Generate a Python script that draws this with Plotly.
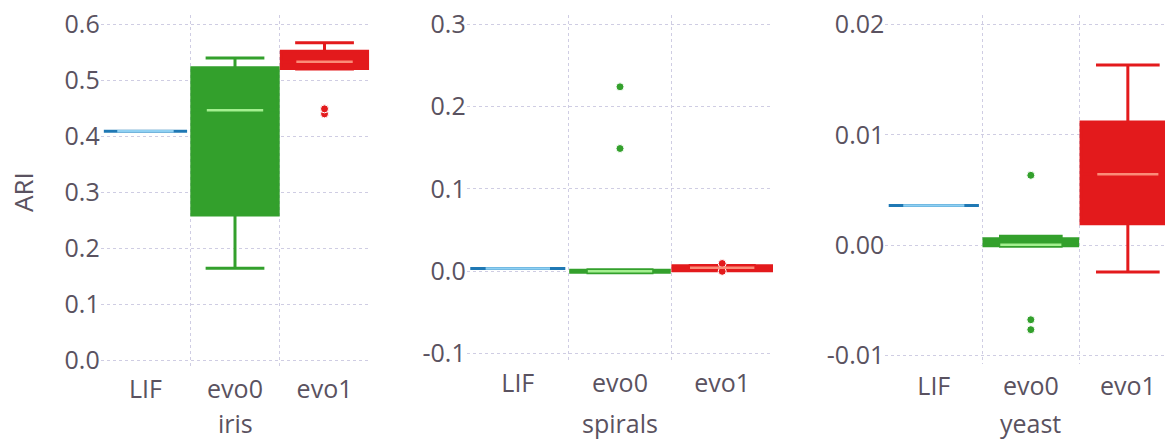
import plotly.graph_objects as go

# ---------------- data ----------------
categories = ["LIF", "evo0", "evo1"]
datasets = ["iris", "spirals", "yeast"]

# box statistics per dataset, ordered as categories
iris_q1 = [0.409, 0.2595, 0.521]
iris_median = [0.409, 0.4464, 0.533]
iris_q3 = [0.409, 0.5226, 0.552]
iris_lowerfence = [0.409, 0.1643, 0.520]
iris_upperfence = [0.409, 0.540, 0.567]
iris_outliers = [[], [], [0.440, 0.449]]

spirals_q1 = [0.0030, -0.0015, 0.0005]
spirals_median = [0.0030, -0.0003, 0.0040]
spirals_q3 = [0.0030, 0.0010, 0.0065]
spirals_lowerfence = [0.0030, -0.0020, 0.0004]
spirals_upperfence = [0.0030, 0.0015, 0.0068]
spirals_outliers = [[], [0.149, 0.224], [-0.0003, 0.0092]]

yeast_q1 = [0.0036, -0.00005, 0.00195]
yeast_median = [0.0036, 0.00003, 0.00642]
yeast_q3 = [0.0036, 0.00059, 0.01116]
yeast_lowerfence = [0.0036, -0.0001, -0.00243]
yeast_upperfence = [0.0036, 0.0008, 0.01632]
yeast_outliers = [[], [-0.00765, -0.00675, 0.00633], []]

# y-axis ticks
iris_tickvals = [0.0, 0.1, 0.2, 0.3, 0.4, 0.5, 0.6]
iris_ticktext = ["0.0", "0.1", "0.2", "0.3", "0.4", "0.5", "0.6"]
spirals_tickvals = [-0.1, 0.0, 0.1, 0.2, 0.3]
spirals_ticktext = ["-0.1", "0.0", "0.1", "0.2", "0.3"]
yeast_tickvals = [-0.01, 0.0, 0.01, 0.02]
yeast_ticktext = ["-0.01", "0.00", "0.01", "0.02"]

# ---------------- style ----------------
dark_colors = ["#1f78b4", "#33a02c", "#e31a1c"]
light_colors = ["#8fd0f2", "#a4f090", "#fb8c78"]
text_color = "#5a5260"
grid_color = "#cfcde3"
font_family = "Open Sans, Noto Sans, sans-serif"

W, H = 1165, 441
panels = [
    dict(name="iris", q1=iris_q1, med=iris_median, q3=iris_q3, lf=iris_lowerfence,
         uf=iris_upperfence, out=iris_outliers, tv=iris_tickvals, tt=iris_ticktext,
         yr=[-0.0155, 0.6166], xd=[100.7, 369.3], yd=[15, 369], xr=[-0.5, 2.5], ls=3),
    dict(name="spirals", q1=spirals_q1, med=spirals_median, q3=spirals_q3, lf=spirals_lowerfence,
         uf=spirals_upperfence, out=spirals_outliers, tv=spirals_tickvals, tt=spirals_ticktext,
         yr=[-0.1081, 0.3113], xd=[466.7, 773.3], yd=[15, 360], xr=[-0.5, 2.5], ls=6),
    dict(name="yeast", q1=yeast_q1, med=yeast_median, q3=yeast_q3, lf=yeast_lowerfence,
         uf=yeast_upperfence, out=yeast_outliers, tv=yeast_tickvals, tt=yeast_ticktext,
         yr=[-0.010758, 0.020846], xd=[885.3, 1165], yd=[15, 364], xr=[-0.5, 2.383], ls=5),
]

fig = go.Figure()
layout = dict(
    template="none",
    width=W, height=H,
    margin=dict(l=0, r=0, t=0, b=0, pad=0),
    paper_bgcolor="white", plot_bgcolor="white",
    showlegend=False, boxmode="overlay",
    font=dict(family=font_family, color=text_color, size=25),
)
annotations = []

positions = list(range(len(categories)))

for pi, p in enumerate(panels):
    sfx = "" if pi == 0 else str(pi + 1)
    xa, ya = "x" + sfx, "y" + sfx
    for j, cat in enumerate(categories):
        # main box with whiskers (and outlier points when present)
        box_kwargs = dict(
            x=[positions[j]], q1=[p["q1"][j]], median=[p["med"][j]], q3=[p["q3"][j]],
            lowerfence=[p["lf"][j]], upperfence=[p["uf"][j]],
            width=0.93 if j == 0 else 0.965, whiskerwidth=0.68,
            fillcolor=dark_colors[j], line=dict(color=dark_colors[j], width=3),
            marker=dict(color=dark_colors[j], size=8, line=dict(color="white", width=1)),
            xaxis=xa, yaxis=ya, name=cat, hoverinfo="skip",
        )
        if p["out"][j]:
            box_kwargs.update(y=[p["out"][j]], boxpoints="all", jitter=0, pointpos=0)
        else:
            box_kwargs.update(boxpoints=False)
        fig.add_trace(go.Box(**box_kwargs))
    for j, cat in enumerate(categories):
        # lighter median line
        fig.add_trace(go.Box(
            x=[positions[j]], q1=[p["med"][j]], median=[p["med"][j]], q3=[p["med"][j]],
            lowerfence=[p["med"][j]], upperfence=[p["med"][j]],
            boxpoints=False, width=0.63, whiskerwidth=0,
            fillcolor="rgba(0,0,0,0)", line=dict(color=light_colors[j], width=2.5),
            xaxis=xa, yaxis=ya, name=cat + " median", hoverinfo="skip",
        ))

    layout["xaxis" + sfx] = dict(
        domain=[p["xd"][0] / W, p["xd"][1] / W], range=p["xr"], anchor=ya,
        tickmode="array", tickvals=positions, ticktext=categories,
        showgrid=False, zeroline=False, showline=False, ticks="", automargin=False,
        ticklabelstandoff=p["ls"],
        minor=dict(tickmode="array", tickvals=[0.5, 1.5], showgrid=True,
                   gridcolor=grid_color, griddash="dot", gridwidth=1, ticks=""),
        fixedrange=True,
    )
    layout["yaxis" + sfx] = dict(
        domain=[(H - p["yd"][1]) / H, (H - p["yd"][0]) / H], range=p["yr"], anchor=xa,
        tickmode="array", tickvals=p["tv"], ticktext=p["tt"],
        showgrid=True, gridcolor=grid_color, griddash="dot", gridwidth=1,
        zeroline=False, showline=False, ticks="", automargin=False,
        fixedrange=True,
    )
    # x-axis title, kept fully inside the bottom edge of the page
    full_right = p["xd"][0] + 3 * (p["xd"][1] - p["xd"][0]) / (p["xr"][1] - p["xr"][0])
    annotations.append(dict(
        text=p["name"], xref="paper", yref="paper",
        x=(p["xd"][0] + full_right) / 2 / W,
        y=0, xanchor="center", yanchor="bottom", borderpad=0,
        showarrow=False, font=dict(size=25, color=text_color),
    ))

layout["yaxis"]["title"] = dict(text="ARI", font=dict(size=26), standoff=23)
layout["annotations"] = annotations

fig.update_layout(**layout)
fig.write_html(
    "out.html",
    config={"displayModeBar": False},
    post_script="document.body.style.margin='0';document.body.style.overflow='hidden';",
)
